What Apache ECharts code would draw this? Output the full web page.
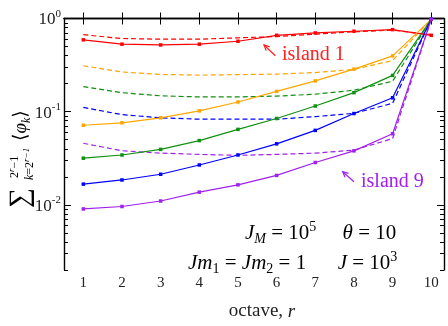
<!DOCTYPE html>
<html><head><meta charset="utf-8">
<script src="https://cdn.jsdelivr.net/npm/echarts@6/dist/echarts.min.js"></script>
<style>html,body{margin:0;padding:0;background:#fff}#c{width:448px;height:326px}</style>
</head><body><div id="c"></div>
<script>
// ---- data ----
const octaves = [1, 2, 3, 4, 5, 6, 7, 8, 9, 10];
const island1Solid  = [0.59, 0.53, 0.52, 0.53, 0.57, 0.66, 0.70, 0.73, 0.76, 0.66];
const island1Dashed = [0.67, 0.61, 0.60, 0.60, 0.62, 0.64, 0.68, 0.72, 0.75, 0.67];
const island3Solid  = [0.0715, 0.076, 0.086, 0.102, 0.127, 0.165, 0.214, 0.286, 0.397, 0.98];
const island3Dashed = [0.311, 0.267, 0.251, 0.247, 0.250, 0.253, 0.263, 0.284, 0.354, 0.98];
const island5Solid  = [0.0317, 0.0343, 0.0394, 0.049, 0.0646, 0.0845, 0.115, 0.160, 0.245, 0.98];
const island5Dashed = [0.186, 0.160, 0.148, 0.144, 0.144, 0.147, 0.154, 0.170, 0.212, 0.98];
const island7Solid  = [0.0167, 0.0185, 0.0213, 0.0268, 0.0343, 0.0452, 0.063, 0.0955, 0.141, 0.98];
const island7Dashed = [0.111, 0.093, 0.086, 0.083, 0.083, 0.083, 0.0885, 0.096, 0.123, 0.98];
const island9Solid  = [0.00904, 0.0096, 0.011, 0.0137, 0.0164, 0.0207, 0.0285, 0.038, 0.058, 0.98];
const island9Dashed = [0.0458, 0.0381, 0.0359, 0.0348, 0.034, 0.0348, 0.0359, 0.0387, 0.0514, 0.98];
const yMajorTicks = [0.01, 0.1, 1];
const yTickLabels = ['{b|10}{s|-2}', '{b|10}{s|-1}', '{b|10}{s|0}'];
const yMin = 0.002, yMax = 1;

// ---- build ----
const SERIF = "'Liberation Serif', 'DejaVu Serif', serif";
const colors = ['#ff0000', '#ffa500', '#109010', '#0000ff', '#a020f0'];
const solids = [island1Solid, island3Solid, island5Solid, island7Solid, island9Solid];
const dashes = [island1Dashed, island3Dashed, island5Dashed, island7Dashed, island9Dashed];
const L = v => Math.log10(v);
const toData = arr => octaves.map((r, i) => [r, L(arr[i])]);

const minorVals = [];
for (let d = -3; d <= -1; d++) for (let k = 2; k <= 9; k++) {
  const v = k * Math.pow(10, d);
  if (v >= yMin && v < yMax) minorVals.push(L(v));
}
const majorVals = yMajorTicks.map(L);

const series = [];
colors.forEach((c, i) => {
  series.push({ type: 'line', data: toData(dashes[i]), symbol: 'none', silent: true,
    lineStyle: { color: c, width: 1.2, type: [5, 3] }, z: 2 });
  series.push({ type: 'line', data: toData(solids[i]), symbol: 'rect', symbolSize: 3.5, silent: true,
    itemStyle: { color: c }, lineStyle: { color: c, width: 1.2 }, z: 3 });
});

const axisLine = { show: true, lineStyle: { color: '#000', width: 1.4 } };
function yAx(pos, vals, len, labels, showLine) {
  return {
    type: 'value', position: pos, min: L(yMin), max: L(yMax), splitLine: { show: false },
    axisLine: showLine ? axisLine : { show: false },
    axisTick: { show: true, inside: true, length: len, customValues: vals, lineStyle: { color: '#000', width: 1 } },
    axisLabel: labels ? {
      show: true, customValues: majorVals, margin: 3,
      formatter: v => yTickLabels[majorVals.findIndex(m => Math.abs(m - v) < 1e-6)] || '',
      rich: {
        b: { fontFamily: SERIF, fontSize: 17, color: '#222', lineHeight: 20, verticalAlign: 'bottom' },
        s: { fontFamily: SERIF, fontSize: 11, color: '#222', lineHeight: 11, verticalAlign: 'top' }
      }
    } : { show: false }
  };
}
function xAx(pos, labels) {
  return {
    type: 'value', position: pos, min: 0.5, max: 10.33, splitLine: { show: false },
    axisLine: axisLine,
    axisTick: { show: true, inside: true, length: 6, customValues: octaves, lineStyle: { color: '#000', width: 1 } },
    axisLabel: labels ? { show: true, customValues: octaves, margin: 6, fontFamily: SERIF, fontSize: 15, color: '#222' } : { show: false },
    name: labels ? '{n|octave, }{i|r}' : '', nameLocation: 'middle', nameGap: 32,
    nameTextStyle: { padding: [0, 0, 0, 16], rich: {
      n: { fontFamily: SERIF, fontSize: 19, color: '#222' },
      i: { fontFamily: SERIF, fontSize: 19, fontStyle: 'italic', color: '#222' } } }
  };
}

function arrow(x1, y1, x2, y2, color) {
  const a = Math.atan2(y2 - y1, x2 - x1), h = 6, s = 0.45;
  const p1 = [x2 - h * Math.cos(a - s), y2 - h * Math.sin(a - s)];
  const p2 = [x2 - h * Math.cos(a + s), y2 - h * Math.sin(a + s)];
  const st = { stroke: color, lineWidth: 1.2, fill: null };
  return [
    { type: 'line', shape: { x1, y1, x2, y2 }, style: st, silent: true },
    { type: 'polyline', shape: { points: [p1, [x2, y2], p2] }, style: st, silent: true }
  ];
}

const mathRich = {
  t: { fontFamily: SERIF, fontSize: 21, color: '#333', lineHeight: 26, verticalAlign: 'middle' },
  i: { fontFamily: SERIF, fontSize: 21, fontStyle: 'italic', color: '#333', lineHeight: 26, verticalAlign: 'middle' },
  sub: { fontFamily: SERIF, fontSize: 14, fontStyle: 'italic', color: '#333', lineHeight: 13, verticalAlign: 'bottom' },
  subn: { fontFamily: SERIF, fontSize: 14, color: '#333', lineHeight: 13, verticalAlign: 'bottom' },
  sup: { fontFamily: SERIF, fontSize: 14, color: '#333', lineHeight: 13, verticalAlign: 'top' }
};

const yNameRich = {
  sig: { fontFamily: SERIF, fontSize: 28, color: '#222' },
  a: { fontFamily: SERIF, fontSize: 12, color: '#222', lineHeight: 14, verticalAlign: 'bottom' },
  ai: { fontFamily: SERIF, fontSize: 9, fontStyle: 'italic', color: '#222', lineHeight: 9, verticalAlign: 'top' },
  ki: { fontFamily: SERIF, fontSize: 12, fontStyle: 'italic', color: '#222', lineHeight: 14, verticalAlign: 'bottom' },
  kn: { fontFamily: SERIF, fontSize: 12, color: '#222', lineHeight: 14, verticalAlign: 'bottom' },
  ks: { fontFamily: SERIF, fontSize: 9, fontStyle: 'italic', color: '#222', lineHeight: 9, verticalAlign: 'top' },
  p: { fontFamily: SERIF, fontSize: 19, color: '#222', lineHeight: 24, verticalAlign: 'middle' },
  pi: { fontFamily: SERIF, fontSize: 19, fontStyle: 'italic', color: '#222', lineHeight: 24, verticalAlign: 'middle' },
  pk: { fontFamily: SERIF, fontSize: 12, fontStyle: 'italic', color: '#222', lineHeight: 12, verticalAlign: 'bottom' }
};

const graphic = [
  { type: 'group', x: 0, y: 208, rotation: Math.PI / 2, silent: true, children: [
    { type: 'text', x: 0, y: 21, style: { text: '{sig|∑}', rich: yNameRich, verticalAlign: 'middle', align: 'left' } },
    { type: 'text', x: 30, y: 14, style: { text: '{a|2}{ai|r}{a|−1}', rich: yNameRich, verticalAlign: 'middle', align: 'left' } },
    { type: 'text', x: 28, y: 29, style: { text: '{ki|k}{kn|=2}{ks|r−1}', rich: yNameRich, verticalAlign: 'middle', align: 'left' } },
    { type: 'text', x: 67, y: 21, style: { text: '{p|⟨}{pi|φ}{pk|k}{p|⟩}', rich: yNameRich, verticalAlign: 'middle', align: 'left' } }
  ]},
  { type: 'text', x: 282, y: 55, silent: true, style: { text: 'island 1', font: "20px 'Liberation Serif'", fill: '#ff2020', verticalAlign: 'middle' } },
  { type: 'text', x: 361, y: 182, silent: true, style: { text: 'island 9', font: "20px 'Liberation Serif'", fill: '#a020f0', verticalAlign: 'middle' } },
  { type: 'text', x: 245, y: 233, silent: true, style: { text: '{i|J}{sub|M}{t| = 10}{sup|5}{t|     }{i|θ}{t| = 10}', rich: mathRich, verticalAlign: 'middle' } },
  { type: 'text', x: 188, y: 263, silent: true, style: { text: '{i|Jm}{subn|1}{t| = }{i|Jm}{subn|2}{t| = 1      }{i|J}{t| = 10}{sup|3}', rich: mathRich, verticalAlign: 'middle' } }
].concat(arrow(275.3, 55.7, 264, 45, '#ff2020'), arrow(354, 181.7, 342.7, 171.7, '#a020f0'));

const chart = echarts.init(document.getElementById('c'), null, { renderer: 'canvas' });
chart.setOption({
  animation: false,
  backgroundColor: '#fff',
  grid: { left: 64, right: 4, top: 18.5, bottom: 38, containLabel: false },
  xAxis: [xAx('bottom', true), xAx('top', false)],
  yAxis: [yAx('left', majorVals, 7, true, true), yAx('left', minorVals, 4, false, false),
          yAx('right', majorVals, 7, false, true), yAx('right', minorVals, 4, false, false)],
  series: series,
  graphic: graphic
});
</script></body></html>
